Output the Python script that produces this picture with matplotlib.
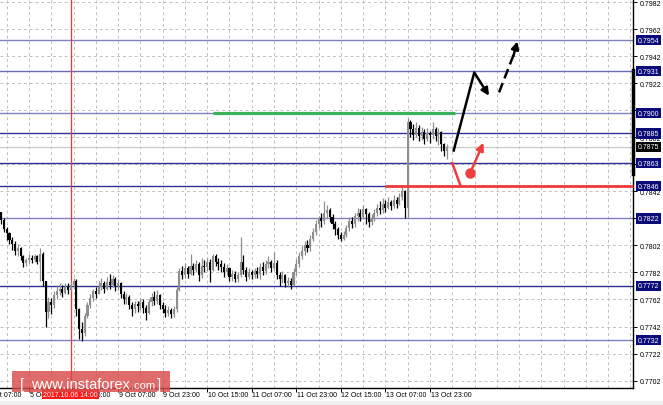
import matplotlib
matplotlib.use('Agg')
import matplotlib.pyplot as plt
import matplotlib.transforms as mtransforms
from matplotlib.patches import Rectangle

# hourly candles, prices in units of 0.0001, bar 0 = 5 Oct 23:00
first_bar = -10
first_open = 7827
closes = [7821, 7814, 7811, 7806, 7803, 7798, 7800, 7794, 7789, 7791,
          7793, 7791, 7794, 7790, 7796, 7776, 7753, 7760, 7758, 7765,
          7768, 7770, 7767, 7771, 7769, 7773, 7776, 7755, 7740, 7737,
          7750, 7758, 7763, 7768, 7766, 7771, 7774, 7770, 7775, 7773,
          7777, 7772, 7774, 7766, 7762, 7764, 7758, 7755, 7759, 7757,
          7760, 7756, 7752, 7760, 7764, 7761, 7765, 7758, 7755, 7752,
          7754, 7751, 7755, 7769, 7783, 7780, 7785, 7781, 7787, 7784,
          7788, 7780, 7787, 7786, 7790, 7784, 7794, 7790, 7788, 7786,
          7782, 7785, 7779, 7781, 7777, 7780, 7790, 7784, 7779, 7782,
          7780, 7783, 7781, 7786, 7783, 7788, 7790, 7785, 7789, 7780,
          7777, 7780, 7774, 7776, 7773, 7782, 7788, 7794, 7798, 7802,
          7800, 7807, 7812, 7818, 7822, 7820, 7826, 7828, 7823, 7818,
          7814, 7810, 7807, 7810, 7815, 7820, 7818, 7824, 7826, 7823,
          7829, 7825, 7819, 7822, 7826, 7830, 7828, 7833, 7830, 7834,
          7831, 7836, 7833, 7838, 7842, 7830, 7893, 7888, 7884, 7889,
          7883, 7886, 7881, 7885, 7884, 7888, 7883, 7886, 7877, 7872, 7875]
highs = [7827, 7822, 7816, 7812, 7808, 7805, 7803, 7801, 7795, 7793,
         7796, 7795, 7796, 7795, 7800, 7797, 7776, 7764, 7763, 7768,
         7772, 7774, 7773, 7774, 7774, 7776, 7778, 7777, 7756, 7745,
         7752, 7760, 7766, 7770, 7771, 7776, 7778, 7776, 7779, 7781,
         7780, 7779, 7777, 7775, 7768, 7767, 7765, 7760, 7761, 7761,
         7763, 7762, 7758, 7762, 7767, 7768, 7769, 7766, 7760, 7758,
         7757, 7756, 7757, 7771, 7785, 7787, 7789, 7787, 7796, 7789,
         7791, 7790, 7793, 7791, 7793, 7792, 7796, 7796, 7793, 7791,
         7789, 7788, 7786, 7784, 7783, 7782, 7808, 7795, 7786, 7785,
         7784, 7785, 7786, 7789, 7790, 7791, 7794, 7791, 7797, 7791,
         7782, 7783, 7781, 7779, 7778, 7785, 7792, 7797, 7802, 7805,
         7806, 7810, 7815, 7821, 7824, 7826, 7835, 7832, 7830, 7825,
         7820, 7816, 7812, 7813, 7817, 7823, 7823, 7826, 7830, 7829,
         7832, 7830, 7827, 7825, 7829, 7833, 7835, 7837, 7836, 7838,
         7836, 7839, 7838, 7841, 7846, 7843, 7896, 7895, 7892, 7893,
         7891, 7890, 7888, 7889, 7887, 7893, 7890, 7889, 7887, 7878, 7877]
lows = [7818, 7812, 7806, 7803, 7799, 7795, 7794, 7791, 7786, 7787,
        7789, 7789, 7790, 7788, 7776, 7772, 7742, 7748, 7751, 7756,
        7762, 7765, 7764, 7766, 7766, 7768, 7770, 7750, 7733, 7731,
        7735, 7748, 7756, 7761, 7763, 7766, 7769, 7767, 7769, 7770,
        7771, 7768, 7769, 7763, 7759, 7759, 7755, 7750, 7752, 7753,
        7754, 7752, 7747, 7751, 7757, 7758, 7759, 7755, 7752, 7749,
        7750, 7748, 7749, 7753, 7768, 7777, 7778, 7778, 7780, 7780,
        7782, 7776, 7778, 7782, 7783, 7775, 7783, 7787, 7784, 7782,
        7779, 7780, 7776, 7776, 7775, 7775, 7779, 7781, 7776, 7777,
        7777, 7778, 7778, 7777, 7780, 7781, 7785, 7782, 7784, 7777,
        7772, 7774, 7771, 7771, 7770, 7772, 7780, 7786, 7792, 7795,
        7797, 7798, 7805, 7810, 7815, 7816, 7818, 7822, 7819, 7814,
        7810, 7807, 7805, 7806, 7808, 7813, 7815, 7816, 7820, 7820,
        7822, 7818, 7816, 7817, 7820, 7824, 7825, 7826, 7827, 7829,
        7828, 7830, 7830, 7832, 7836, 7822, 7822, 7882, 7880, 7882,
        7879, 7880, 7877, 7879, 7878, 7881, 7879, 7876, 7872, 7868, 7866]

levels = [0.7954, 0.7931, 0.7900, 0.7885, 0.7863, 0.7846, 0.7822, 0.7772, 0.7732]
level_colors = ['#8080c4', '#6a6ab8', '#8080c4', '#30309a', '#30309a',
                '#30309a', '#8080c4', '#30309a', '#8080c4']
current_price = 0.7875
price_ticks = [0.7702, 0.7722, 0.7742, 0.7762, 0.7782, 0.7802, 0.7822, 0.7842,
               0.7862, 0.7882, 0.7902, 0.7922, 0.7942, 0.7962, 0.7982]
time_ticks = [-16, 0, 16, 32, 48, 64, 80, 96, 112, 128, 144]
time_labels = ['5 Oct 07:00', '5 Oct 23:00', '6 Oct 15:00', '9 Oct 07:00',
               '9 Oct 23:00', '10 Oct 15:00', '11 Oct 07:00', '11 Oct 23:00',
               '12 Oct 15:00', '13 Oct 07:00', '13 Oct 23:00']
grid_bars = [-8, 0, 8, 16, 24, 32, 40, 48, 56, 64, 72, 80, 88, 96, 104,
             112, 120, 128, 136, 144, 152, 160, 168, 176, 184, 192, 200, 208, 216]
marker_bar = 15
marker_label = '2017.10.06 14:00'
green_level, green_from, green_to = 0.7900, 66, 153
red_level, red_from, red_to = 0.7846, 128, 217

# forecast drawing
black_up_x = [152.4, 159.9]
black_up_y = [0.78714, 0.7930]
black_down = [(159.9, 0.7930), (165.2, 0.79128)]
dashed_up = [(168.8, 0.79153), (175.4, 0.7953)]
red_tick_x = [152.0, 155.0]
red_tick_y = [0.7863, 0.7846]
red_dot = (158.4, 0.78556)
red_up = [(158.4, 0.78556), (163.2, 0.7878)]

W, H = 663, 406
fig = plt.figure(figsize=(W / 100, H / 100), dpi=100)
ax = fig.add_axes([0, 17 / H, 633 / W, 389 / H])
ax.set_xlim(-10.41, 216.9)
ax.set_ylim(0.76965, 0.79844)
font = 'Liberation Sans'

# grid
for p in price_ticks:
    ax.axhline(p, color='#c0c0c0', lw=0.7, ls=(0, (3, 3)), zorder=0.5)
for b in grid_bars:
    ax.axvline(b, color='#c0c0c0', lw=0.7, ls=(0, (3, 3)), zorder=0.5)

ax.axhline(current_price, color='#c8c8c8', lw=0.9, zorder=0.6)
for lv, c in zip(levels, level_colors):
    ax.axhline(lv, color=c, lw=1.0, zorder=0.8)

ax.axvline(marker_bar, color='#ff3030', lw=0.9, zorder=0.9)

# candles
opens = [first_open] + closes[:-1]
for k in range(len(closes)):
    x = first_bar + k
    o, c = opens[k] / 10000, closes[k] / 10000
    hi, lo = highs[k] / 10000, lows[k] / 10000
    col = '#8e8e8e' if c >= o else '#000000'
    ax.vlines(x, lo, hi, color=col, lw=0.9, zorder=2)
    ax.bar(x, max(abs(c - o), 0.00008), bottom=min(o, c), width=0.75,
           color=col, linewidth=0, zorder=2.1)

ax.hlines(green_level, green_from, green_to, color='#3cb25c', lw=2.3, zorder=3)
ax.hlines(red_level, red_from, red_to, color='#f03c3c', lw=2.0, zorder=3,
          clip_on=False)

# forecast
ax.plot(black_up_x, black_up_y, color='black', lw=1.8, zorder=4,
        solid_capstyle='butt')
ax.annotate('', xy=black_down[1], xytext=black_down[0], zorder=4,
            arrowprops=dict(arrowstyle='-|>', color='black', lw=1.8,
                            mutation_scale=11, shrinkA=0, shrinkB=0))
ax.plot([dashed_up[0][0], dashed_up[1][0] - 1.2],
        [dashed_up[0][1], dashed_up[1][1] - 0.0009],
        color='black', lw=1.8, ls=(0, (4, 2)), zorder=4)
ax.annotate('', xy=dashed_up[1], xytext=(dashed_up[1][0] - 1.5, dashed_up[1][1] - 0.0011),
            zorder=4, arrowprops=dict(arrowstyle='-|>', color='black', lw=1.8,
                                      mutation_scale=11, shrinkA=0, shrinkB=0))
ax.plot(red_tick_x, red_tick_y, color='#f03c3c', lw=1.8, zorder=4)
ax.plot(*red_dot, 'o', color='#f03c3c', ms=6.5, zorder=4)
ax.annotate('', xy=red_up[1], xytext=red_up[0], zorder=4,
            arrowprops=dict(arrowstyle='-|>', color='#f03c3c', lw=1.8,
                            mutation_scale=11, shrinkA=0, shrinkB=0))

# axes frame
for s in ['top', 'left']:
    ax.spines[s].set_visible(False)
ax.spines['right'].set_linewidth(1.0)
ax.spines['bottom'].set_linewidth(1.0)
ax.yaxis.tick_right()
ax.set_yticks(price_ticks)
ax.set_yticklabels(['%.4f' % p for p in price_ticks], fontsize=5, family=font)
ax.tick_params(axis='y', length=3, width=0.7, pad=2)
ax.set_xticks([t for t in time_ticks if t > -10])
ax.set_xticklabels([])
ax.tick_params(axis='x', length=3, width=0.7)

trans_y = mtransforms.blended_transform_factory(ax.transAxes, ax.transData)
ax.plot([1, 1], [0.7932, 0.7855], transform=trans_y, color='black', lw=2.5,
        clip_on=False, zorder=5)
for lv in levels:
    ax.text(1.0075, lv, '%.4f' % lv, transform=trans_y, fontsize=5, family=font,
            color='white', va='center', ha='left', zorder=10, clip_on=False,
            bbox=dict(boxstyle='square,pad=0.25', fc='#0a0a7a', ec='none'))
ax.text(1.0075, current_price, '%.4f' % current_price, transform=trans_y, fontsize=5,
        family=font, color='white', va='center', ha='left', zorder=10, clip_on=False,
        bbox=dict(boxstyle='square,pad=0.25', fc='black', ec='none'))

trans_x = mtransforms.blended_transform_factory(ax.transData, ax.transAxes)
for t, lab in zip(time_ticks, time_labels):
    ax.text(t + 0.2, -0.008, lab, transform=trans_x, fontsize=5, family=font,
            va='top', ha='left', clip_on=False)
ax.text(marker_bar, -0.007, marker_label, transform=trans_x, fontsize=5, family=font,
        color='white', va='top', ha='center', zorder=10, clip_on=False,
        bbox=dict(boxstyle='square,pad=0.2', fc='#ff1a1a', ec='none'))

# logo and bottom strip
fig.add_artist(Rectangle((0, 0), 1, 4 / H, transform=fig.transFigure,
                         color='#efefef', zorder=0))
fig.add_artist(Rectangle((12 / W, 13 / H), 158 / W, 21 / H, transform=fig.transFigure,
                         fc='#d94a4a', alpha=0.82, ec='none', zorder=20))
fig.text(20 / W, 17 / H, '[', fontsize=11, family=font, color='white', va='baseline',
         zorder=21)
fig.text(31 / W, 17 / H, 'www.instaforex', fontsize=10.5, family=font, color='white',
         va='baseline', zorder=21)
fig.text(131 / W, 17 / H, '.com', fontsize=8, family=font, color='white',
         va='baseline', zorder=21)
fig.text(157 / W, 17 / H, ']', fontsize=11, family=font, color='white', va='baseline',
         zorder=21)

fig.savefig('out.png', dpi=100)
